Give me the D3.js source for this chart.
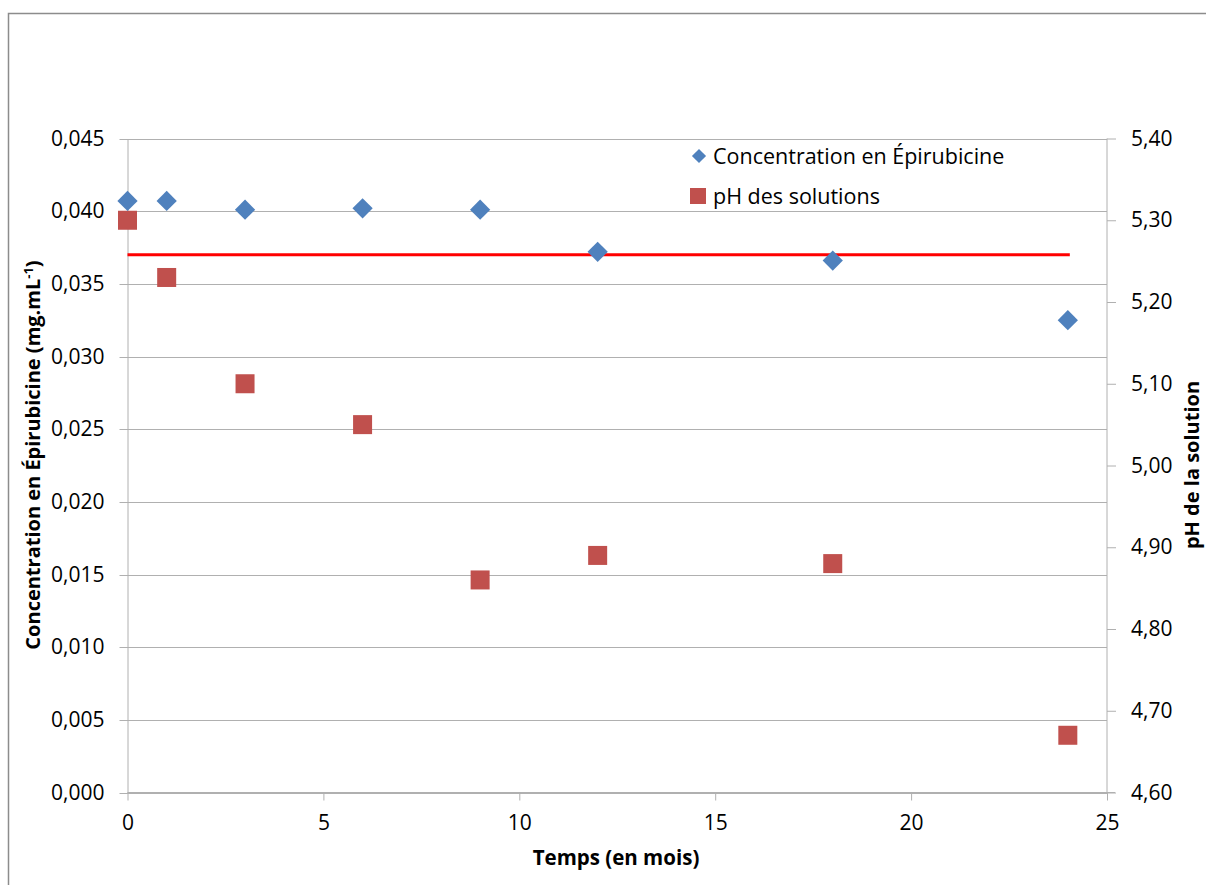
<!DOCTYPE html>
<html>
<head>
<meta charset="utf-8">
<script src="https://cdn.jsdelivr.net/npm/d3@7"></script>
<style>
  html, body { margin: 0; padding: 0; background: #fff; }
  svg { display: block; font-family: "Open Sans", "Noto Sans", sans-serif; }
</style>
</head>
<body>
<svg id="chart" width="1206" height="885"></svg>
<script>
// ---- Data ----
const months = [0, 1, 3, 6, 9, 12, 18, 24];
const concentration = [0.0407, 0.0407, 0.0401, 0.0402, 0.0401, 0.0372, 0.0366, 0.0325];
const pH = [5.30, 5.23, 5.10, 5.05, 4.86, 4.89, 4.88, 4.67];
const limitValue = 0.037;
const limitRange = [0, 24];
const xTicks = [0, 5, 10, 15, 20, 25];
const yLeftTicks = [0, 0.005, 0.010, 0.015, 0.020, 0.025, 0.030, 0.035, 0.040, 0.045];
const yRightTicks = [4.60, 4.70, 4.80, 4.90, 5.00, 5.10, 5.20, 5.30, 5.40];
const legendLabels = ["Concentration en Épirubicine", "pH des solutions"];
const xTitle = "Temps (en mois)";
const yLeftTitle = "Concentration en Épirubicine (mg.mL";
const yRightTitle = "pH de la solution";

// ---- Layout ----
const svg = d3.select("#chart");
const L = 127.5, R = 1107, T = 138.5, B = 792.5;
const blue = "#4F81BD", red = "#C0504D";
const gridColor = "#b0b0b0";

// outer frame
svg.append("rect").attr("x", 8.5).attr("y", 13.5).attr("width", 1300).attr("height", 1000)
  .attr("fill", "none").attr("stroke", "#8c8c8c").attr("stroke-width", 1.5);

const x = d3.scaleLinear().domain([0, 25]).range([L, R]);
const yL = d3.scaleLinear().domain([0, 0.045]).range([B, T]);
const yR = d3.scaleLinear().domain([4.60, 5.40]).range([B, T]);

const fmt = (n) => (v) => d3.format("." + n + "f")(v).replace(".", ",");

// gridlines (left axis)
svg.append("g").selectAll("line").data(yLeftTicks).join("line")
  .attr("x1", L - 8).attr("x2", R)
  .attr("y1", d => Math.round(yL(d)) + 0.5).attr("y2", d => Math.round(yL(d)) + 0.5)
  .attr("stroke", gridColor).attr("stroke-width", 1);

// left axis
const axL = svg.append("g").attr("transform", `translate(${L},0)`)
  .call(d3.axisLeft(yL).tickValues(yLeftTicks).tickFormat(fmt(3)).tickSize(0).tickPadding(23));
axL.select(".domain").attr("stroke", gridColor);
axL.selectAll("text").attr("font-size", 21).attr("fill", "#000").attr("font-family", "Open Sans");

// right axis
const axR = svg.append("g").attr("transform", `translate(${R},0)`)
  .call(d3.axisRight(yR).tickValues(yRightTicks).tickFormat(fmt(2)).tickSize(9).tickPadding(15));
axR.select(".domain").attr("stroke", gridColor).attr("d", `M0,${T}V${B}`);
axR.selectAll(".tick line").attr("stroke", gridColor);
axR.selectAll("text").attr("font-size", 21).attr("fill", "#000").attr("font-family", "Open Sans");

// bottom axis
const axB = svg.append("g").attr("transform", `translate(0,${B})`)
  .call(d3.axisBottom(x).tickValues(xTicks).tickFormat(d3.format("d")).tickSize(8).tickPadding(15));
axB.select(".domain").attr("stroke", gridColor).attr("d", `M${L},0H${R + 8}`);
axB.selectAll(".tick line").attr("stroke", gridColor);
axB.selectAll("text").attr("font-size", 21).attr("fill", "#000").attr("font-family", "Open Sans");

// limit line
svg.append("line")
  .attr("x1", x(limitRange[0])).attr("x2", x(limitRange[1]) + 2)
  .attr("y1", yL(limitValue)).attr("y2", yL(limitValue))
  .attr("stroke", "#ff0000").attr("stroke-width", 3);

// pH squares
const sq = 19;
svg.append("g").selectAll("rect").data(months.map((m, i) => [m, pH[i]])).join("rect")
  .attr("x", d => x(d[0]) - sq / 2).attr("y", d => yR(d[1]) - sq / 2)
  .attr("width", sq).attr("height", sq).attr("fill", red);

// concentration diamonds
const diamond = d3.symbol().type(d3.symbolSquare).size(205);
svg.append("g").selectAll("path").data(months.map((m, i) => [m, concentration[i]])).join("path")
  .attr("d", diamond)
  .attr("transform", d => `translate(${x(d[0])},${yL(d[1])}) rotate(45)`)
  .attr("fill", blue);

// legend
const lg = svg.append("g");
lg.append("path").attr("d", d3.symbol().type(d3.symbolSquare).size(100))
  .attr("transform", "translate(699,156) rotate(45)").attr("fill", blue);
lg.append("rect").attr("x", 690).attr("y", 188).attr("width", 16).attr("height", 16).attr("fill", red);
lg.selectAll("text").data(legendLabels).join("text")
  .attr("x", 713).attr("y", (d, i) => 156 + i * 40).attr("dy", "0.35em")
  .attr("font-size", 21.5).attr("fill", "#000").text(d => d);

// axis titles
svg.append("text").attr("x", 616).attr("y", 858).attr("text-anchor", "middle")
  .attr("dy", "0.35em").attr("font-size", 20.5).attr("font-weight", "bold").text(xTitle);

const lt = svg.append("text").attr("transform", "translate(33,455) rotate(-90)")
  .attr("text-anchor", "middle").attr("dy", "0.35em")
  .attr("font-size", 20).attr("font-weight", "bold");
lt.append("tspan").text(yLeftTitle);
lt.append("tspan").attr("font-size", 13).attr("dy", "-7").text("-1");
lt.append("tspan").attr("dy", "7").text(")");

svg.append("text").attr("transform", "translate(1192,465) rotate(-90)")
  .attr("text-anchor", "middle").attr("dy", "0.35em")
  .attr("font-size", 20).attr("font-weight", "bold").text(yRightTitle);
</script>
</body>
</html>
